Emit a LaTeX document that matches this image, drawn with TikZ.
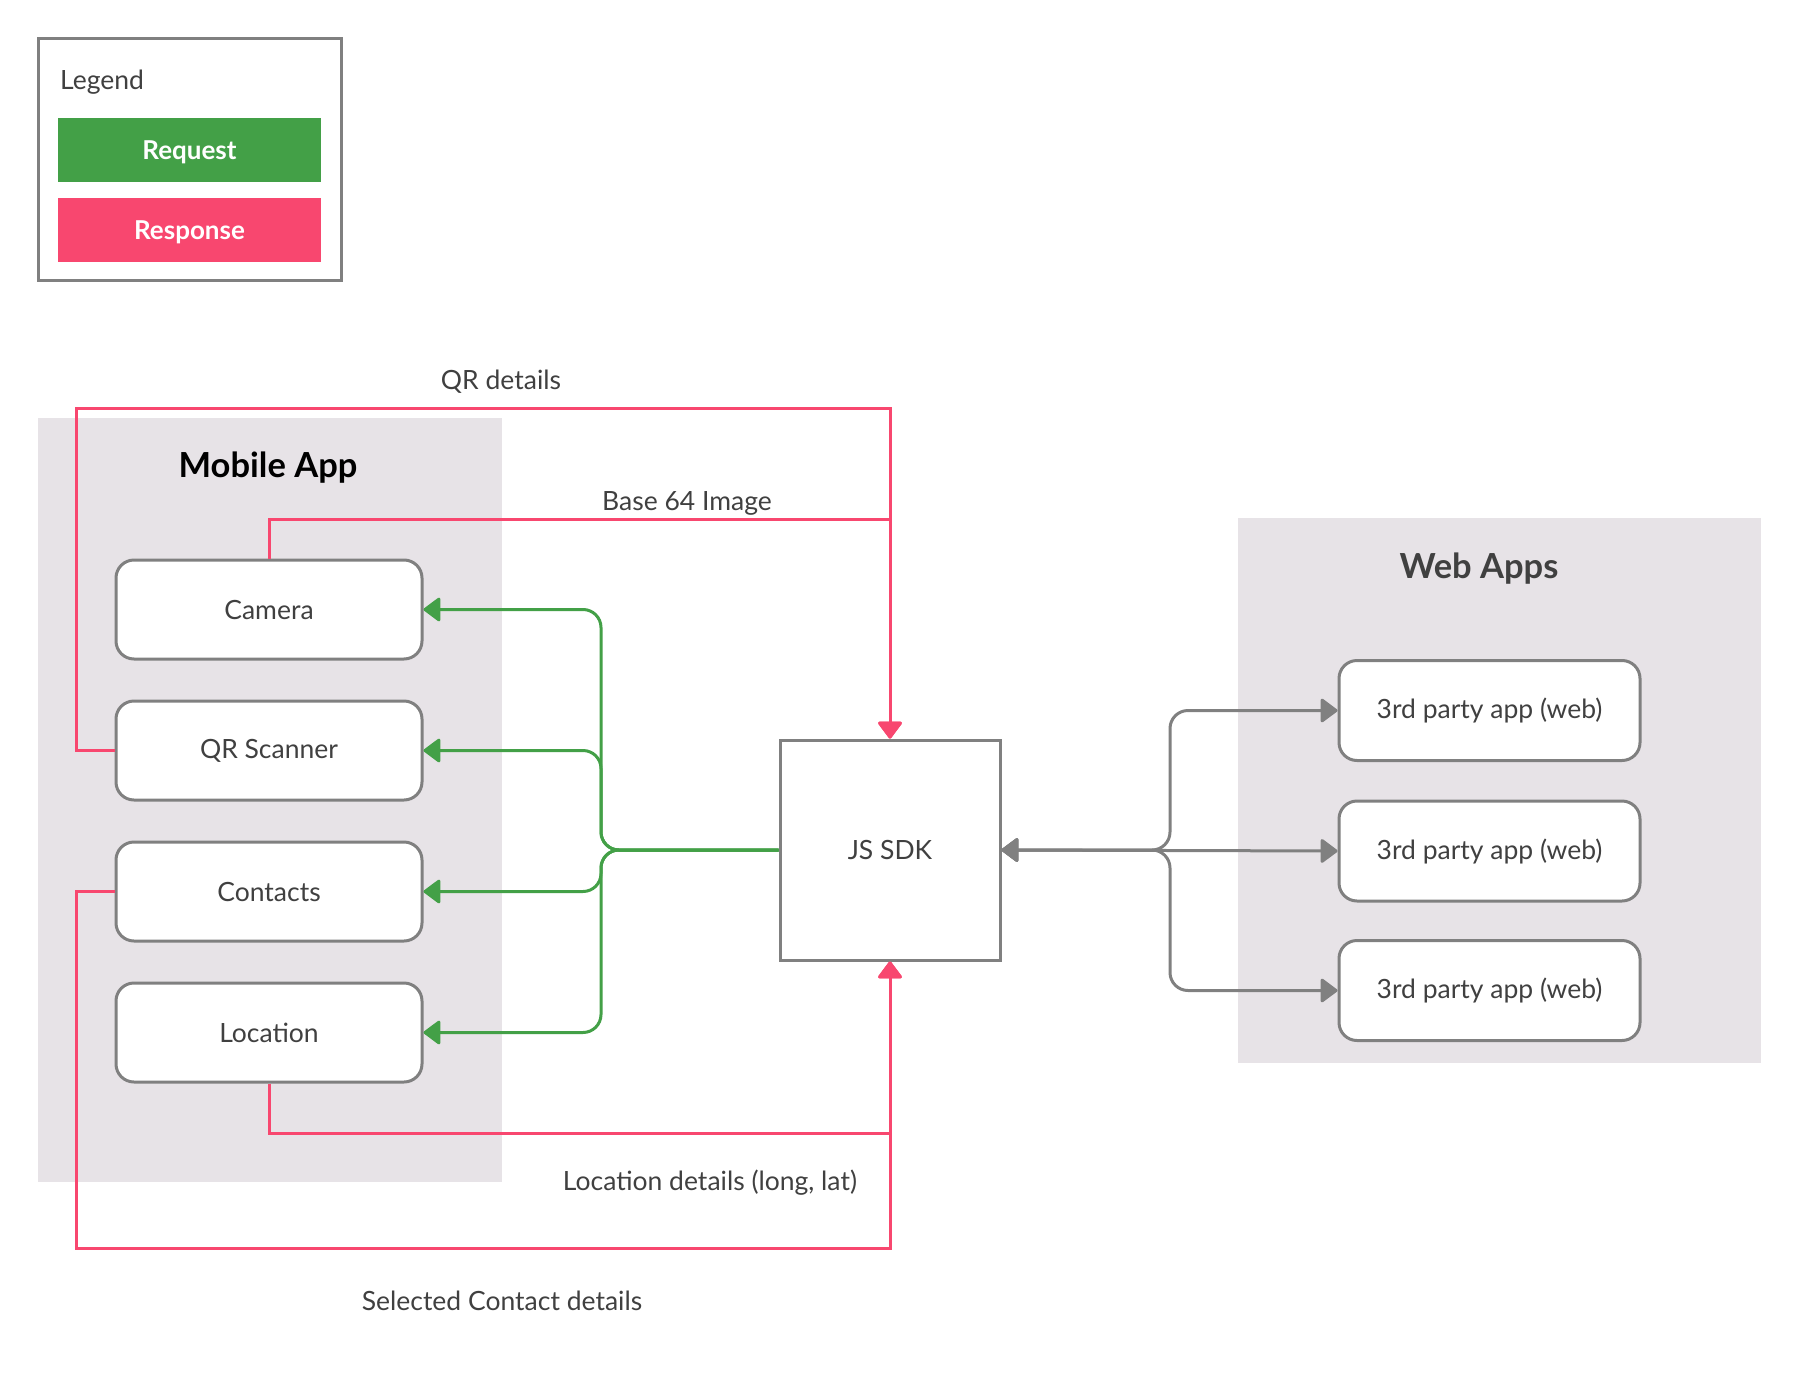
\documentclass[tikz,border=0pt]{standalone}
\usepackage{fontspec}
\setmainfont{Lato}
\usetikzlibrary{arrows.meta}
\definecolor{reqgreen}{HTML}{43A047}
\definecolor{resppink}{HTML}{F8476F}
\definecolor{boxgray}{HTML}{808080}
\definecolor{groupfill}{HTML}{E7E3E7}
\definecolor{txtgray}{HTML}{404040}
\tikzset{
  comp/.style={draw=boxgray, line width=3pt, fill=white, rounded corners=18pt,
    minimum width=306pt, minimum height=99pt, inner sep=0pt, text=txtgray,
    font=\fontsize{26.5}{32}\selectfont},
  webcomp/.style={comp, minimum width=301pt, minimum height=100pt},
  sdkbox/.style={draw=boxgray, line width=3pt, fill=white, minimum width=220pt,
    minimum height=220pt, inner sep=0pt, text=txtgray, font=\fontsize{26.5}{32}\selectfont},
  legbar/.style={minimum width=263pt, minimum height=64pt, inner sep=0pt, text=white,
    text depth=0pt, font=\fontsize{26}{31}\selectfont\bfseries},
  lbl/.style={text=txtgray, font=\fontsize{26.5}{32}\selectfont, inner sep=0pt},
  grouptitle/.style={inner sep=0pt, font=\fontsize{34.5}{41}\selectfont\bfseries},
  req/.style={draw=reqgreen, line width=3pt, rounded corners=18pt,
    -{Triangle[length=18pt,width=26pt,round]}},
  resp/.style={draw=resppink, line width=3pt,
    -{Triangle[length=18pt,width=26pt,round]}},
  link/.style={draw=boxgray, line width=3pt, rounded corners=18pt,
    {Triangle[length=18pt,width=26pt,round]}-{Triangle[length=18pt,width=26pt,round]}}
}
\begin{document}
\begin{tikzpicture}[x=1pt,y=-1pt]
  \useasboundingbox (0,0) rectangle (1801,1378);
  \draw[boxgray, line width=3pt, fill=white] (38,39) rectangle (341,280);
  \node[lbl, anchor=west] (legend) at (60,82) {Legend};
  \node[legbar, fill=reqgreen] (request) at (189.5,150) {Request};
  \node[legbar, fill=resppink] (response) at (189.5,230) {Response};

  \fill[groupfill] (38,418) rectangle (502,1182);
  \fill[groupfill] (1238,518) rectangle (1761,1063);
  \node[grouptitle, text=black] (mobile) at (268,468) {Mobile App};
  \node[grouptitle, text=txtgray] (webapps) at (1479,569) {Web Apps};

  \node[comp] (camera) at (269,609.5) {Camera};
  \node[comp] (qrscan) at (269,750.5) {QR Scanner};
  \node[comp] (contacts) at (269,891.5) {Contacts};
  \node[comp] (location) at (269,1032.5) {Location};
  \node[sdkbox] (sdk) at (890,850) {JS SDK};
  \node[webcomp] (web1) at (1489.5,710.5) {3rd party app (web)};
  \node[webcomp] (web2) at (1489.5,851) {3rd party app (web)};
  \node[webcomp] (web3) at (1489.5,990.5) {3rd party app (web)};

  \node[lbl] (qrlbl) at (501,382) {QR details};
  \node[lbl] (imglbl) at (687,503) {Base 64 Image};
  \node[lbl] (loclbl) at (710,1183) {Location details (long, lat)};
  \node[lbl] (conlbl) at (502,1301) {Selected Contact details};

  \begin{scope}
    \draw[req] (sdk.west) -- (601,850) |- (camera.east);
    \draw[req] (sdk.west) -- (601,850) |- (qrscan.east);
    \draw[req] (sdk.west) -- (601,850) |- (contacts.east);
    \draw[req] (sdk.west) -- (601,850) |- (location.east);
    \draw[link] (sdk.east) -- (1170,850) |- (web1.west);
    \draw[link] (sdk.east) -- (web2.west);
    \draw[link] (sdk.east) -- (1170,850) |- (web3.west);
    \draw[resp] (qrscan.west) -| (76,408) -| (sdk.north);
    \draw[resp] (camera.north) |- (890,519) -- (sdk.north);
    \draw[resp] (location.south) |- (890,1133) -- (sdk.south);
    \draw[resp] (contacts.west) -| (76,1248) -| (sdk.south);
  \end{scope}
\end{tikzpicture}
\end{document}
